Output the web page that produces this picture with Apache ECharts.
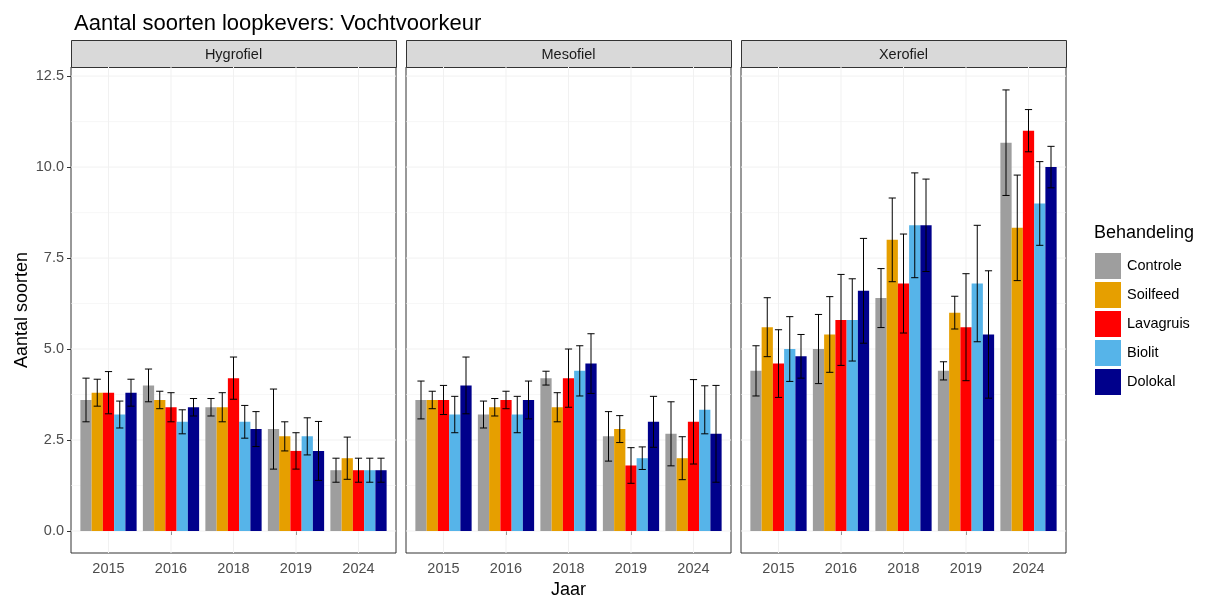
<!DOCTYPE html>
<html>
<head>
<meta charset="utf-8">
<script src="https://cdn.jsdelivr.net/npm/echarts@6/dist/echarts.min.js"></script>
<style>
  html, body { margin: 0; padding: 0; background: #ffffff; }
  #chart { width: 1206px; height: 596px; }
</style>
</head>
<body>
<div id="chart"></div>
<script>
// Categories
const years = ['2015', '2016', '2018', '2019', '2024'];
const treatments = ['Controle', 'Soilfeed', 'Lavagruis', 'Biolit', 'Dolokal'];
const facets = ['Hygrofiel', 'Mesofiel', 'Xerofiel'];
const treatmentColors = ['#9E9E9E', '#E69F00', '#FF0000', '#56B4E9', '#00008B'];

// Tick values
const yMajorBreaks = [0, 2.5, 5, 7.5, 10, 12.5];
const yMinorBreaks = [1.25, 3.75, 6.25, 8.75, 11.25];

// Mean number of species; rows follow `treatments`, columns follow `years`
const hygrofielMean = [
  [3.6, 4.0, 3.4, 2.8, 1.67],
  [3.8, 3.6, 3.4, 2.6, 2.0],
  [3.8, 3.4, 4.2, 2.2, 1.67],
  [3.2, 3.0, 3.0, 2.6, 1.67],
  [3.8, 3.4, 2.8, 2.2, 1.67]
];
const hygrofielSe = [
  [0.6, 0.45, 0.24, 1.1, 0.33],
  [0.37, 0.24, 0.4, 0.4, 0.58],
  [0.58, 0.4, 0.58, 0.5, 0.33],
  [0.37, 0.33, 0.45, 0.51, 0.33],
  [0.37, 0.24, 0.48, 0.81, 0.33]
];
const mesofielMean = [
  [3.6, 3.2, 4.2, 2.6, 2.67],
  [3.6, 3.4, 3.4, 2.8, 2.0],
  [3.6, 3.6, 4.2, 1.8, 3.0],
  [3.2, 3.2, 4.4, 2.0, 3.33],
  [4.0, 3.6, 4.6, 3.0, 2.67]
];
const mesofielSe = [
  [0.52, 0.37, 0.19, 0.68, 0.88],
  [0.24, 0.24, 0.4, 0.37, 0.59],
  [0.4, 0.24, 0.8, 0.49, 1.16],
  [0.5, 0.5, 0.69, 0.31, 0.66],
  [0.78, 0.52, 0.82, 0.7, 1.33]
];
const xerofielMean = [
  [4.4, 5.0, 6.4, 4.4, 10.67],
  [5.6, 5.4, 8.0, 6.0, 8.33],
  [4.6, 5.8, 6.8, 5.6, 11.0],
  [5.0, 5.8, 8.4, 6.8, 9.0],
  [4.8, 6.6, 8.4, 5.4, 10.0]
];
const xerofielSe = [
  [0.69, 0.95, 0.81, 0.25, 1.45],
  [0.81, 1.04, 1.15, 0.45, 1.45],
  [0.93, 1.25, 1.36, 1.47, 0.58],
  [0.89, 1.13, 1.44, 1.6, 1.15],
  [0.6, 1.44, 1.27, 1.75, 0.57]
];

const facetMeans = [hygrofielMean, mesofielMean, xerofielMean];
const facetSes = [hygrofielSe, mesofielSe, xerofielSe];

// Layout
const FONT = 'Liberation Sans, Arial, sans-serif';
const panelLeft = [71, 406, 741];
const panelWidth = 325;
const panelTop = 67;
const panelHeight = 486;
const stripHeight = 27;
const barWidth = 0.18;   // in category units (dodge width 0.9 / 5)
const capWidth = 0.115;

const chart = echarts.init(document.getElementById('chart'), null, { renderer: 'canvas' });

const grids = [], xAxes = [], yAxes = [], series = [], graphics = [];

facets.forEach((name, f) => {
  grids.push({
    left: panelLeft[f], top: panelTop, width: panelWidth, height: panelHeight,
    outerBoundsMode: 'none', containLabel: false,
    show: true, backgroundColor: '#FFFFFF', borderColor: '#333333', borderWidth: 1
  });
  xAxes.push({
    type: 'value', gridIndex: f, min: 0.4, max: 5.6,
    axisLine: { show: false },
    splitLine: { show: false },
    axisTick: { show: true, length: 4, customValues: [1, 2, 3, 4, 5],
      lineStyle: { color: '#333333', width: 1 } },
    axisLabel: {
      customValues: [1, 2, 3, 4, 5], margin: 8,
      formatter: v => years[Math.round(v) - 1] || '',
      color: '#4D4D4D', fontSize: 14.5, fontFamily: FONT
    },
    name: f === 1 ? 'Jaar' : '', nameLocation: 'middle', nameGap: 26,
    nameTextStyle: { color: '#000000', fontSize: 18, fontFamily: FONT }
  });
  yAxes.push({
    type: 'value', gridIndex: f, min: -0.605, max: 12.75,
    axisLine: { show: false },
    splitLine: { show: false },
    axisTick: { show: f === 0, length: 4, customValues: yMajorBreaks,
      lineStyle: { color: '#333333', width: 1 } },
    axisLabel: {
      show: f === 0, customValues: yMajorBreaks, margin: 7,
      formatter: v => Number(v).toFixed(1),
      color: '#4D4D4D', fontSize: 14.5, fontFamily: FONT
    },
    name: f === 0 ? 'Aantal soorten' : '', nameLocation: 'middle', nameGap: 40,
    nameTextStyle: { color: '#000000', fontSize: 18, fontFamily: FONT }
  });

  // panel grid lines (major + minor horizontals, verticals at each year)
  const lineData = []
    .concat(yMajorBreaks.map(v => [0, v]))
    .concat(yMinorBreaks.map(v => [1, v]))
    .concat(years.map((y, i) => [2, i + 1]));
  series.push({
    type: 'custom', xAxisIndex: f, yAxisIndex: f, silent: true, z: 1,
    data: lineData,
    encode: { x: -1, y: -1 },
    renderItem: (params, api) => {
      const kind = api.value(0), v = api.value(1);
      const cs = params.coordSys;
      if (kind === 2) {
        const p = api.coord([v, 0]);
        return { type: 'line', shape: { x1: p[0], y1: cs.y, x2: p[0], y2: cs.y + cs.height },
          style: { stroke: '#F1F1F1', lineWidth: 1 } };
      }
      const p = api.coord([1, v]);
      return { type: 'line', shape: { x1: cs.x, y1: p[1], x2: cs.x + cs.width, y2: p[1] },
        style: { stroke: '#F1F1F1', lineWidth: kind === 0 ? 1 : 0.6 } };
    }
  });

  // bars with error bars, one series per treatment
  treatments.forEach((t, k) => {
    const data = years.map((y, i) => [i + 1, facetMeans[f][k][i], facetSes[f][k][i], k]);
    series.push({
      type: 'custom', name: t, xAxisIndex: f, yAxisIndex: f, z: 2,
      itemStyle: { color: treatmentColors[k] },
      encode: { x: 0, y: 1 },
      data: data,
      renderItem: (params, api) => {
        const x = api.value(0), mean = api.value(1), se = api.value(2), idx = api.value(3);
        const xc = x + (idx - 2) * barWidth;
        const p0 = api.coord([xc - barWidth / 2, 0]);
        const p1 = api.coord([xc + barWidth / 2, mean]);
        const hi = api.coord([xc, mean + se]);
        const lo = api.coord([xc, mean - se]);
        const half = api.size([capWidth, 0])[0] / 2;
        const ls = { stroke: '#000000', lineWidth: 1 };
        return {
          type: 'group',
          children: [
            { type: 'rect', shape: { x: p0[0], y: p1[1], width: p1[0] - p0[0], height: p0[1] - p1[1] },
              style: { fill: treatmentColors[idx] } },
            { type: 'line', shape: { x1: hi[0], y1: hi[1], x2: lo[0], y2: lo[1] }, style: ls },
            { type: 'line', shape: { x1: hi[0] - half, y1: hi[1], x2: hi[0] + half, y2: hi[1] }, style: ls },
            { type: 'line', shape: { x1: lo[0] - half, y1: lo[1], x2: lo[0] + half, y2: lo[1] }, style: ls }
          ]
        };
      }
    });
  });

  // facet strip
  graphics.push({
    type: 'rect', left: panelLeft[f], top: panelTop - stripHeight,
    shape: { width: panelWidth, height: stripHeight },
    style: { fill: '#D9D9D9', stroke: '#333333', lineWidth: 1 }
  });
  graphics.push({
    type: 'text', x: panelLeft[f] + panelWidth / 2, y: panelTop - stripHeight / 2 + 1, z: 10,
    style: { text: name, fill: '#1A1A1A', font: '14.5px ' + FONT,
      textAlign: 'center', textVerticalAlign: 'middle' }
  });
});

const option = {
  animation: false,
  backgroundColor: '#FFFFFF',
  color: treatmentColors,
  title: [
    { text: 'Aantal soorten loopkevers: Vochtvoorkeur', left: 69, top: 8,
      textStyle: { fontSize: 22, fontWeight: 'normal', color: '#000000', fontFamily: FONT } },
    { text: 'Behandeling', left: 1094, top: 224, padding: 0,
      textStyle: { fontSize: 18, fontWeight: 'normal', color: '#000000', fontFamily: FONT } }
  ],
  legend: {
    data: treatments,
    orient: 'vertical', left: 1095, top: 253, padding: 0,
    icon: 'rect', itemWidth: 26, itemHeight: 26, itemGap: 3,
    selectedMode: false,
    textStyle: { fontSize: 14.5, color: '#000000', fontFamily: FONT, padding: [0, 0, 0, 1] }
  },
  grid: grids,
  xAxis: xAxes,
  yAxis: yAxes,
  series: series,
  graphic: graphics
};

chart.setOption(option);
</script>
</body>
</html>
